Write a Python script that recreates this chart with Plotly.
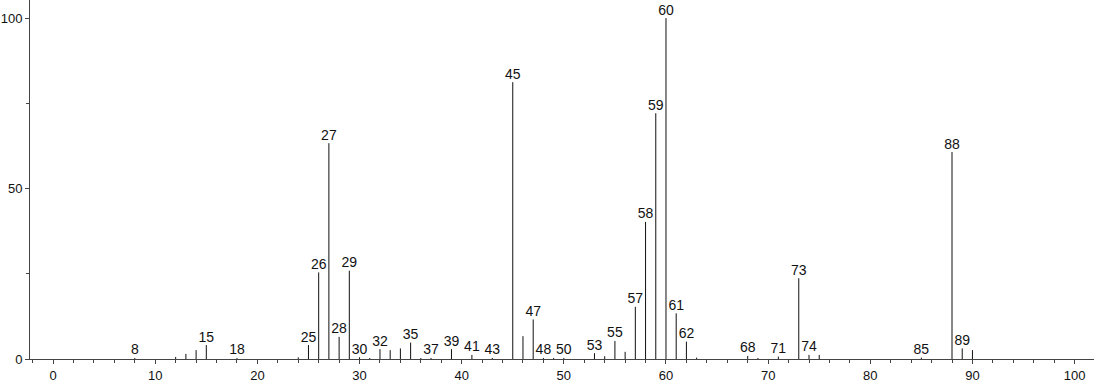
import plotly.graph_objects as go

# m/z values and relative intensities
mz = [8, 12, 13, 14, 15, 18, 24, 25, 26, 27, 28, 29, 30, 31, 32, 33, 34, 35, 36, 37,
      39, 41, 43, 45, 46, 47, 48, 49, 50, 53, 54, 55, 56, 57, 58, 59, 60, 61, 62, 63,
      68, 69, 71, 73, 74, 75, 85, 88, 89, 90]
intensity = [0.3, 0.6, 1.5, 2.6, 4.1, 0.3, 0.5, 4.1, 25.4, 63.3, 6.5, 25.9, 0.5, 0.3, 2.9, 2.6, 3.1, 4.8, 0.3, 0.3,
             2.9, 1.2, 0.3, 81.2, 6.7, 11.6, 0.3, 0.3, 0.3, 1.7, 0.8, 5.3, 2.1, 15.3, 40.2, 72.1, 100.0, 13.4, 5.1, 0.4,
             0.9, 0.3, 0.7, 23.7, 1.2, 1.2, 0.4, 60.7, 3.1, 2.6]

labeled_mz = [8, 15, 18, 25, 26, 27, 28, 29, 30, 32, 35, 37, 39, 41, 43, 45, 47, 48, 50,
              53, 55, 57, 58, 59, 60, 61, 62, 68, 71, 73, 74, 85, 88, 89]

x_ticks = [0, 10, 20, 30, 40, 50, 60, 70, 80, 90, 100]
y_ticks = [0, 50, 100]

lookup = dict(zip(mz, intensity))

xs, ys = [], []
for m, v in zip(mz, intensity):
    xs += [m, m, None]
    ys += [0, v, None]

fig = go.Figure()
fig.add_trace(go.Scatter(x=xs, y=ys, mode="lines",
                         line=dict(color="#111111", width=1),
                         hoverinfo="skip", showlegend=False))
fig.add_trace(go.Scatter(x=labeled_mz, y=[lookup[m] for m in labeled_mz],
                         mode="text", text=[str(m) for m in labeled_mz],
                         textposition="top center",
                         textfont=dict(family="Liberation Sans, Arial, sans-serif", size=14, color="#111111"),
                         cliponaxis=False, showlegend=False, hoverinfo="skip"))

axis_font = dict(family="Liberation Sans, Arial, sans-serif", size=14, color="#111111")
tick_font = dict(family="Liberation Sans, Arial, sans-serif", size=13, color="#111111")
fig.update_layout(
    width=1094, height=384,
    margin=dict(l=30, r=0, t=0, b=25, autoexpand=False),
    paper_bgcolor="white", plot_bgcolor="white",
    font=axis_font,
    xaxis=dict(range=[-2.26, 101.9], tickvals=x_ticks, ticks="outside", ticklen=4,
               tickcolor="#444", showline=True, linecolor="#444", linewidth=1,
               showgrid=False, zeroline=False, tickfont=tick_font, automargin=False,
               minor=dict(dtick=2, tick0=0, ticks="outside", ticklen=3, tickcolor="#444")),
    yaxis=dict(range=[0, 105.3], tickvals=y_ticks, ticks="outside", ticklen=4,
               tickcolor="#444", showline=True, linecolor="#444", linewidth=1,
               showgrid=False, zeroline=False, tickfont=tick_font, automargin=False,
               minor=dict(tickvals=[25, 75], ticks="outside", ticklen=3, tickcolor="#444")),
)

fig.write_html("out.html")
